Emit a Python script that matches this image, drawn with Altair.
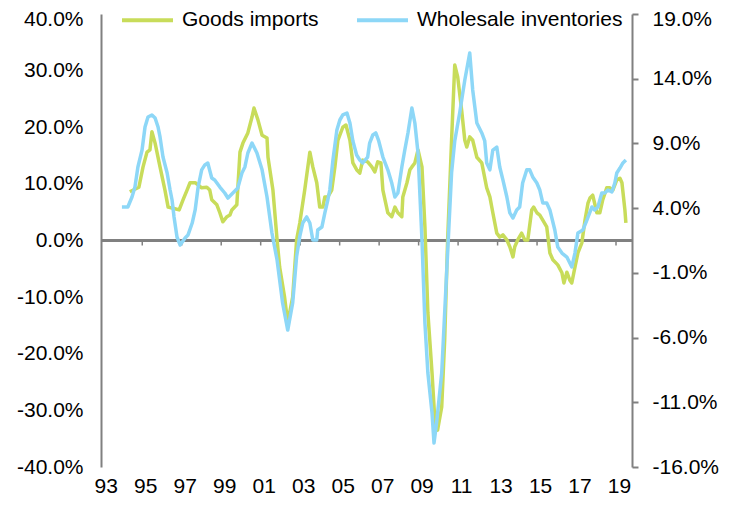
import altair as alt
import pandas as pd

SERIES = ["Goods imports", "Wholesale inventories"]
COLORS = ["#C8DC5A", "#8DD7F7"]

imports_year = [
    1994.37, 1994.83, 1995.04, 1995.24, 1995.39, 1995.49, 1995.65, 1995.90, 1996.15, 1996.31,
    1996.56, 1996.87, 1997.07, 1997.27, 1997.42, 1997.68, 1998.01, 1998.27, 1998.42, 1998.52,
    1998.78, 1998.93, 1999.08, 1999.29, 1999.44, 1999.54, 1999.79, 1999.95, 2000.10, 2000.35,
    2000.56, 2000.66, 2000.86, 2001.07, 2001.32, 2001.37, 2001.62, 2001.83, 2001.96, 2002.21,
    2002.37, 2002.62, 2002.82, 2002.98, 2003.23, 2003.49, 2003.64, 2003.84, 2003.99, 2004.15,
    2004.25, 2004.40, 2004.60, 2004.76, 2004.91, 2005.16, 2005.32, 2005.52, 2005.67, 2005.86,
    2006.02, 2006.17, 2006.42, 2006.63, 2006.78, 2006.93, 2007.09, 2007.19, 2007.44, 2007.64,
    2007.80, 2007.95, 2008.15, 2008.20, 2008.41, 2008.56, 2008.66, 2008.81, 2008.97, 2009.17,
    2009.32, 2009.47, 2009.68, 2009.83, 2009.96, 2010.17, 2010.32, 2010.47, 2010.67, 2010.83,
    2010.98, 2011.18, 2011.34, 2011.44, 2011.59, 2011.74, 2011.95, 2012.20, 2012.45, 2012.61,
    2012.76, 2012.96, 2013.11, 2013.27, 2013.47, 2013.62, 2013.78, 2013.87, 2014.02, 2014.22,
    2014.38, 2014.53, 2014.73, 2014.83, 2014.99, 2015.14, 2015.29, 2015.49, 2015.65, 2015.80,
    2016.05, 2016.26, 2016.36, 2016.51, 2016.66, 2016.76, 2016.92, 2017.07, 2017.27, 2017.43,
    2017.58, 2017.68, 2017.82, 2018.03, 2018.18, 2018.33, 2018.53, 2018.69, 2018.84, 2019.04,
    2019.20, 2019.30, 2019.45, 2019.50,
]
imports_pct = [
    8.6, 9.4, 13.0, 15.6, 16.0, 19.2, 17.2, 13.0, 8.9, 5.9,
    5.7, 5.4, 7.2, 8.9, 10.2, 10.2, 9.3, 9.4, 8.9, 7.2,
    6.3, 4.9, 3.3, 4.2, 4.5, 5.4, 6.3, 15.6, 17.2, 19.0,
    21.8, 23.4, 21.3, 18.6, 18.1, 14.7, 8.9, 0.1, -4.7, -10.0,
    -14.5, -10.0, 0.1, 3.1, 8.9, 15.6, 13.0, 10.2, 5.9, 5.9,
    7.7, 7.7, 8.9, 13.0, 17.7, 20.0, 20.4, 17.7, 13.7, 12.5,
    11.9, 14.2, 13.9, 13.0, 12.1, 13.9, 13.7, 8.9, 4.9, 4.2,
    5.9, 4.9, 4.2, 7.7, 10.2, 12.5, 13.0, 13.7, 16.0, 13.0,
    2.4, -12.8, -23.4, -32.2, -33.5, -29.4, -17.6, 0.1, 17.7, 31.0,
    28.9, 23.0, 17.7, 16.5, 18.3, 17.7, 14.7, 13.7, 9.3, 7.7,
    4.9, 1.3, 0.6, 1.0, 0.1, -1.1, -2.9, -1.1, 0.1, 1.3,
    0.1, 0.1, 5.4, 5.9, 4.9, 4.5, 3.6, 2.4, -2.2, -3.4,
    -4.3, -5.7, -7.5, -5.6, -7.0, -7.5, -4.7, -2.2, -0.4, 3.6,
    6.6, 7.5, 8.0, 4.9, 4.9, 7.2, 9.3, 9.3, 8.9, 10.7,
    11.0, 10.2, 5.4, 3.1,
]

inventories_year = [
    1993.97, 1994.27, 1994.48, 1994.63, 1994.78, 1994.99, 1995.14, 1995.29, 1995.49, 1995.65,
    1995.80, 1995.90, 1996.05, 1996.26, 1996.41, 1996.51, 1996.61, 1996.76, 1996.92, 1997.17,
    1997.32, 1997.53, 1997.68, 1997.83, 1998.01, 1998.17, 1998.32, 1998.52, 1998.67, 1998.93,
    1999.18, 1999.34, 1999.59, 1999.84, 2000.05, 2000.20, 2000.35, 2000.56, 2000.81, 2001.07,
    2001.32, 2001.57, 2001.83, 2002.11, 2002.37, 2002.62, 2002.82, 2002.98, 2003.13, 2003.33,
    2003.49, 2003.64, 2003.84, 2003.89, 2004.10, 2004.25, 2004.40, 2004.50, 2004.66, 2004.86,
    2005.01, 2005.16, 2005.37, 2005.52, 2005.67, 2005.86, 2006.02, 2006.17, 2006.42, 2006.52,
    2006.68, 2006.83, 2006.98, 2007.19, 2007.44, 2007.64, 2007.80, 2007.95, 2008.15, 2008.30,
    2008.46, 2008.66, 2008.81, 2008.97, 2009.17, 2009.32, 2009.47, 2009.68, 2009.78, 2009.91,
    2010.17, 2010.42, 2010.67, 2010.83, 2011.08, 2011.34, 2011.59, 2011.74, 2011.95, 2012.20,
    2012.35, 2012.45, 2012.61, 2012.76, 2012.96, 2013.11, 2013.27, 2013.47, 2013.62, 2013.78,
    2013.97, 2014.12, 2014.27, 2014.48, 2014.63, 2014.78, 2014.99, 2015.14, 2015.29, 2015.49,
    2015.65, 2015.90, 2016.05, 2016.26, 2016.51, 2016.66, 2016.76, 2016.92, 2017.07, 2017.32,
    2017.53, 2017.78, 2017.92, 2018.08, 2018.28, 2018.43, 2018.59, 2018.79, 2018.94, 2019.04,
    2019.20, 2019.35, 2019.50,
]
inventories_pct = [
    4.09, 4.09, 4.86, 5.63, 7.18, 8.49, 10.27, 11.04, 11.20, 10.97,
    10.27, 9.50, 7.95, 6.72, 5.40, 4.63, 3.32, 1.77, 1.15, 1.69,
    1.93, 2.85, 3.86, 5.63, 6.96, 7.34, 7.49, 6.33, 6.18, 5.63,
    5.17, 4.78, 5.17, 5.56, 6.72, 7.18, 8.26, 9.03, 8.26, 6.96,
    4.86, 2.08, -0.01, -3.33, -5.42, -3.33, 0.27, 1.82, 2.85, 3.32,
    2.85, 1.54, 1.54, 2.31, 2.54, 3.63, 4.63, 5.40, 7.72, 10.04,
    10.81, 11.20, 11.35, 10.58, 9.19, 8.11, 7.72, 7.49, 7.95, 9.03,
    9.65, 9.81, 9.19, 7.95, 6.96, 5.94, 4.86, 5.17, 7.18, 8.49,
    9.81, 11.74, 10.58, 8.26, 1.54, -4.88, -8.74, -11.83, -14.15, -12.61,
    -8.74, -0.99, 6.72, 9.19, 11.35, 13.90, 15.99, 13.13, 10.58, 9.81,
    9.19, 7.49, 6.96, 8.49, 8.72, 7.18, 6.18, 4.86, 3.63, 3.24,
    3.86, 4.09, 5.94, 6.96, 6.96, 6.41, 5.94, 5.40, 4.40, 4.40,
    3.86, 2.31, 0.99, 0.53, 0.22, -0.24, -0.55, 0.53, 2.08, 2.31,
    3.09, 4.09, 3.86, 4.09, 5.17, 5.17, 5.40, 5.25, 5.94, 6.72,
    7.10, 7.49, 7.72,
]

x_label_years = list(range(1993, 2020, 2))
x_tick_years = list(range(1995, 2020, 2))
left_ticks = [-40, -30, -20, -10, 0, 10, 20, 30, 40]
right_ticks = [-16, -11, -6, -1, 4, 9, 14, 19]
X_DOMAIN = [1992.91, 2019.81]
LEFT_DOMAIN = [-40, 40]
RIGHT_DOMAIN = [-16, 19]

FONT = "Liberation Sans"
GRAY = "#808080"
W, H = 531, 453

imp = pd.DataFrame({"year": imports_year, "value": imports_pct, "series": SERIES[0]})
inv = pd.DataFrame({"year": inventories_year, "value": inventories_pct, "series": SERIES[1]})
ticks_df = pd.DataFrame({"year": x_tick_years})


def xscale():
    return alt.Scale(domain=X_DOMAIN, nice=False, zero=False)


def lscale():
    return alt.Scale(domain=LEFT_DOMAIN, nice=False, zero=False)


def xaxis():
    return alt.Axis(
        orient="bottom",
        values=x_label_years,
        labelExpr="substring('' + datum.value, 2, 4)",
        domain=False,
        ticks=False,
        tickSize=0,
        grid=False,
        title=None,
        labelPadding=25,
        labelBaseline="alphabetic",
        labelOffset=3,
        labelFlush=False,
        labelOverlap=False,
        labelFont=FONT,
        labelFontSize=21,
        labelColor="#000000",
    )


color = alt.Color(
    "series:N",
    scale=alt.Scale(domain=SERIES, range=COLORS),
    legend=alt.Legend(
        title=None,
        orient="none",
        legendX=19,
        legendY=-21.5,
        direction="horizontal",
        symbolType="stroke",
        symbolSize=2601,
        symbolStrokeWidth=4,
        labelFont=FONT,
        labelFontSize=21,
        labelColor="#000000",
        labelLimit=400,
        labelOffset=7,
        columnPadding=30,
        padding=0,
    ),
)

zero_line = alt.Chart(imp).mark_rule(color=GRAY, strokeWidth=2).encode(
    x=alt.XDatum(X_DOMAIN[0], type="quantitative", scale=xscale(), axis=xaxis()),
    x2=alt.X2Datum(X_DOMAIN[1]),
    y=alt.YDatum(0, type="quantitative", scale=lscale(), axis=None),
)

zero_ticks = alt.Chart(ticks_df).mark_rule(color=GRAY, strokeWidth=1.5, y2Offset=5).encode(
    x=alt.X("year:Q", scale=xscale(), axis=xaxis()),
    y=alt.YDatum(0, type="quantitative", scale=lscale(), axis=None),
    y2=alt.Y2Datum(0),
)

green = alt.Chart(imp).mark_line(strokeWidth=3.5, strokeJoin="round").encode(
    x=alt.X("year:Q", scale=xscale(), axis=xaxis()),
    y=alt.Y(
        "value:Q",
        scale=lscale(),
        axis=alt.Axis(
            orient="left",
            values=left_ticks,
            labelExpr="datum.value + '.0%'",
            domain=True,
            domainColor=GRAY,
            domainWidth=2,
            ticks=False,
            tickSize=0,
            grid=False,
            title=None,
            labelPadding=18,
            labelFlush=False,
            labelFont=FONT,
            labelFontSize=21,
            labelColor="#000000",
            labelOffset={"condition": {"test": "datum.value == 40", "value": 5.5}, "value": 0},
        ),
    ),
    color=color,
)

blue = alt.Chart(inv).mark_line(strokeWidth=3.5, strokeJoin="round").encode(
    x=alt.X("year:Q", scale=xscale(), axis=xaxis()),
    y=alt.Y(
        "value:Q",
        scale=alt.Scale(domain=RIGHT_DOMAIN, nice=False, zero=False),
        axis=alt.Axis(
            orient="right",
            values=right_ticks,
            labelExpr="datum.value + '.0%'",
            domain=True,
            domainColor=GRAY,
            domainWidth=2,
            ticks=True,
            tickSize=6,
            tickColor=GRAY,
            tickWidth=2,
            grid=False,
            title=None,
            labelPadding=14,
            labelAlign="left",
            labelFlush=False,
            labelFont=FONT,
            labelFontSize=21,
            labelColor="#000000",
            labelOffset={"condition": {"test": "datum.value == 19", "value": 5.5}, "value": 0},
        ),
    ),
    color=color,
)

chart = (
    alt.layer(zero_line, zero_ticks, green, blue)
    .resolve_scale(y="independent")
    .properties(
        width=W,
        height=H,
        autosize=alt.AutoSizeParams(type="none"),
        padding={"left": 93, "top": 6, "right": 92, "bottom": 31},
        background="white",
    )
    .configure_view(stroke=None)
)

chart.save("out.html", embed_options={"renderer": "svg", "actions": False})
